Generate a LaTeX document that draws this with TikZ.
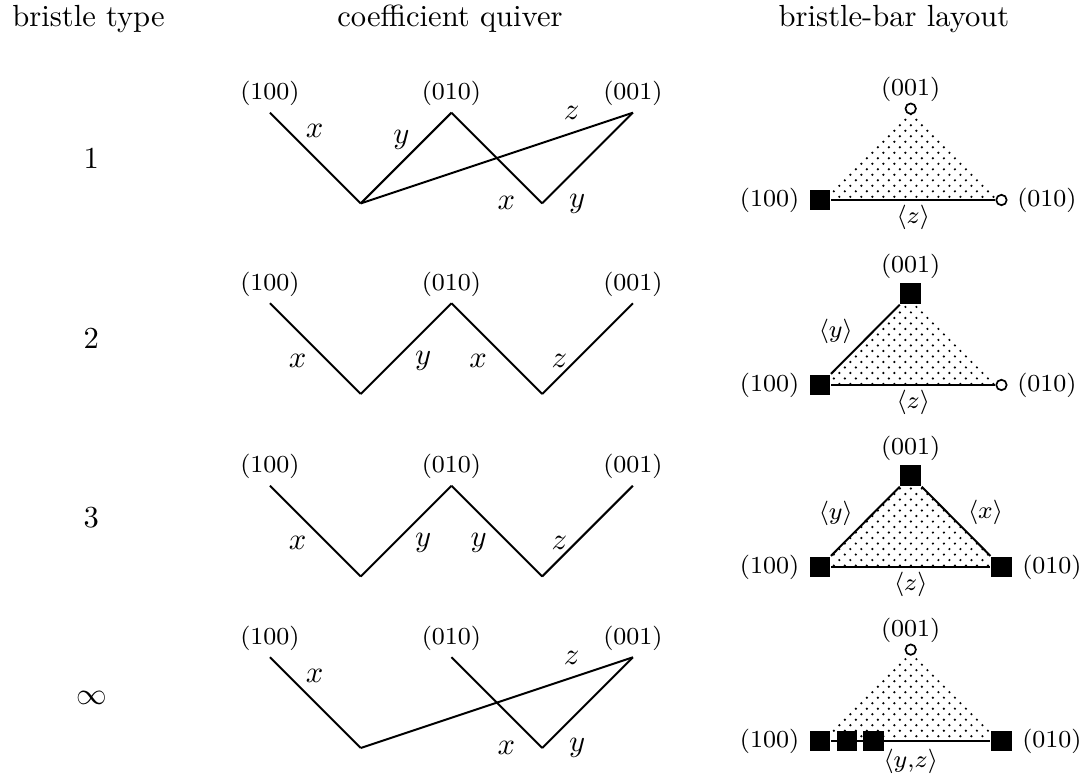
\documentclass[tikz,border=0pt]{standalone}
\usepackage{amsmath}
\usepackage{tikz}
\usetikzlibrary{positioning, patterns, backgrounds}
\pgfdeclarepatternformonly{finedots}{\pgfqpoint{-0.5pt}{-0.5pt}}{\pgfqpoint{4.1pt}{4.1pt}}{\pgfqpoint{3.6pt}{3.6pt}}{%
  \pgfpathcircle{\pgfqpoint{0.9pt}{0.9pt}}{0.4pt}%
  \pgfpathcircle{\pgfqpoint{2.7pt}{2.7pt}}{0.4pt}%
  \pgfusepath{fill}}
\tikzset{
  qline/.style={line width=0.65pt},
  bar/.style={line width=0.65pt},
  hdr/.style={anchor=base},
  vlab/.style={font=\footnotesize, inner sep=0pt},
  elab/.style={inner sep=1pt},
  blab/.style={font=\footnotesize, inner sep=0pt},
  bristle/.style={rectangle, fill=black, minimum size=0.24cm, inner sep=0pt},
  hole/.style={circle, draw, fill=white, line width=0.55pt,
    minimum size=0.12cm, inner sep=0pt},
  patch/.style={pattern=finedots}
}

\begin{document}
\begin{tikzpicture}
  \useasboundingbox (0,0) rectangle (12.414,9.0);
  % column heads
  \node[hdr] (htype) at (1.017,8.69) {bristle type};
  \node[hdr] (hquiv) at (5.172,8.69) {coefficient quiver};
  \node[hdr] (hbar) at (10.276,8.69) {bristle-bar layout};
  % bristle types
  \node (n1) at (1.05,7.184) {1};
  \node (n2) at (1.05,5.115) {2};
  \node (n3) at (1.05,3.046) {3};
  \node (n4) at (1.05,0.977) {$\infty$};

  % quiver, type 1
  \node[coordinate, label={[vlab, label distance=2pt]above:(100)}] (a1) at (3.103,7.705) {};
  \node[coordinate] (b1) at (4.146,6.662) {};
  \node[coordinate, label={[vlab, label distance=2pt]above:(010)}] (c1) at (5.189,7.705) {};
  \node[coordinate] (d1) at (6.232,6.662) {};
  \node[coordinate, label={[vlab, label distance=2pt]above:(001)}] (e1) at (7.275,7.705) {};
  \draw[qline] (a1) -- node[elab, pos=0.2, right=4.5pt] {$x$} (b1);
  \draw[qline] (b1) -- node[elab, pos=0.7, left=3.5pt] {$y$} (c1);
  \draw[qline] (c1) -- node[elab, pos=1, left=7.5pt] {$x$} (d1);
  \draw[qline] (d1) -- node[elab, pos=0, right=7.5pt] {$y$} (e1);
  \draw[qline] (b1) -- node[elab, pos=0.775, above=3pt] {$z$} (e1);

  % quiver, type 2
  \node[coordinate, label={[vlab, label distance=2pt]above:(100)}] (a2) at (3.103,5.514) {};
  \node[coordinate] (b2) at (4.146,4.471) {};
  \node[coordinate, label={[vlab, label distance=2pt]above:(010)}] (c2) at (5.189,5.514) {};
  \node[coordinate] (d2) at (6.232,4.471) {};
  \node[coordinate, label={[vlab, label distance=2pt]above:(001)}] (e2) at (7.275,5.514) {};
  \draw[qline] (a2) -- node[elab, pos=0.63, left=5.5pt] {$x$} (b2);
  \draw[qline] (b2) -- node[elab, pos=0.37, right=5.5pt] {$y$} (c2);
  \draw[qline] (c2) -- node[elab, pos=0.63, left=5.8pt] {$x$} (d2);
  \draw[qline] (d2) -- node[elab, pos=0.37, left=1.5pt] {$z$} (e2);

  % quiver, type 3
  \node[coordinate, label={[vlab, label distance=2pt]above:(100)}] (a3) at (3.103,3.417) {};
  \node[coordinate] (b3) at (4.146,2.374) {};
  \node[coordinate, label={[vlab, label distance=2pt]above:(010)}] (c3) at (5.189,3.417) {};
  \node[coordinate] (d3) at (6.232,2.374) {};
  \node[coordinate, label={[vlab, label distance=2pt]above:(001)}] (e3) at (7.275,3.417) {};
  \draw[qline] (a3) -- node[elab, pos=0.63, left=5.5pt] {$x$} (b3);
  \draw[qline] (b3) -- node[elab, pos=0.37, right=5.5pt] {$y$} (c3);
  \draw[qline] (c3) -- node[elab, pos=0.63, left=5.8pt] {$y$} (d3);
  \draw[qline] (d3) -- node[elab, pos=0.37, left=1.5pt] {$z$} (e3);

  % quiver, type infinity
  \node[coordinate, label={[vlab, label distance=2pt]above:(100)}] (a4) at (3.103,1.445) {};
  \node[coordinate] (b4) at (4.146,0.402) {};
  \node[coordinate, label={[vlab, label distance=2pt]above:(010)}] (c4) at (5.189,1.445) {};
  \node[coordinate] (d4) at (6.232,0.402) {};
  \node[coordinate, label={[vlab, label distance=2pt]above:(001)}] (e4) at (7.275,1.445) {};
  \draw[qline] (a4) -- node[elab, pos=0.2, right=4.5pt] {$x$} (b4);
  \draw[qline] (c4) -- node[elab, pos=1, left=7.5pt] {$x$} (d4);
  \draw[qline] (d4) -- node[elab, pos=0, right=7.5pt] {$y$} (e4);
  \draw[qline] (b4) -- node[elab, pos=0.775, above=3pt] {$z$} (e4);

  % layout, type 1
  \node[bristle, label={[vlab, label distance=3pt]left:(100)}] (l1) at (9.425,6.701) {};
  \node[hole, label={[vlab, label distance=3pt]right:(010)}] (r1) at (11.511,6.701) {};
  \node[hole, label={[vlab, label distance=0pt]above:(001)}] (t1) at (10.468,7.751) {};
  \begin{scope}[on background layer]
    \fill[patch] (l1.center) -- (t1.center) -- (r1.center) -- cycle;
  \end{scope}
  \draw[bar] (l1) -- node[blab, midway, below=1.5pt] {$\langle z\rangle$} (r1);

  % layout, type 2
  \node[bristle, label={[vlab, label distance=3pt]left:(100)}] (l2) at (9.425,4.575) {};
  \node[hole, label={[vlab, label distance=3pt]right:(010)}] (r2) at (11.511,4.575) {};
  \node[bristle, label={[vlab, label distance=1pt]above:(001)}] (t2) at (10.468,5.625) {};
  \begin{scope}[on background layer]
    \fill[patch] (l2.center) -- (t2.center) -- (r2.center) -- cycle;
  \end{scope}
  \draw[bar] (l2) -- node[blab, midway, below=1.5pt] {$\langle z\rangle$} (r2);
  \draw[bar] (l2) -- node[blab, pos=0.62, left=6.5pt] {$\langle y\rangle$} (t2);

  % layout, type 3
  \node[bristle, label={[vlab, label distance=3pt]left:(100)}] (l3) at (9.425,2.483) {};
  \node[bristle, label={[vlab, label distance=3pt]right:(010)}] (r3) at (11.511,2.483) {};
  \node[bristle, label={[vlab, label distance=1pt]above:(001)}] (t3) at (10.468,3.533) {};
  \begin{scope}[on background layer]
    \fill[patch] (l3.center) -- (t3.center) -- (r3.center) -- cycle;
  \end{scope}
  \draw[bar] (l3) -- node[blab, midway, below=1.5pt] {$\langle z\rangle$} (r3);
  \draw[bar] (l3) -- node[blab, pos=0.62, left=6.5pt] {$\langle y\rangle$} (t3);
  \draw[bar] (t3) -- node[blab, pos=0.37, right=6.5pt] {$\langle x\rangle$} (r3);

  % layout, type infinity
  \node[bristle, label={[vlab, label distance=3pt]left:(100)}] (l4) at (9.425,0.483) {};
  \node[bristle] (m4) at (9.735,0.483) {};
  \node[bristle] (k4) at (10.045,0.483) {};
  \node[bristle, label={[vlab, label distance=3pt]right:(010)}] (r4) at (11.511,0.483) {};
  \node[hole, label={[vlab, label distance=0pt]above:(001)}] (t4) at (10.468,1.533) {};
  \begin{scope}[on background layer]
    \fill[patch] (l4.center) -- (t4.center) -- (r4.center) -- cycle;
  \end{scope}
  \draw[bar] (l4) -- node[blab, midway, below=2.5pt] {$\langle y{,}z\rangle$} (r4);
\end{tikzpicture}
\end{document}
